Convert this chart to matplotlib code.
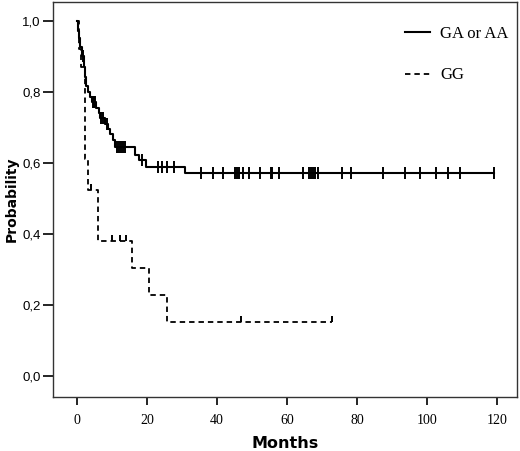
import numpy as np
import matplotlib
matplotlib.use("Agg")
import matplotlib.pyplot as plt
from matplotlib.markers import TICKUP

# ---- data ----
ga_times = [0, 0.3, 0.6, 1.0, 1.5, 2.0, 2.3, 2.6, 3.2, 3.8, 4.3, 5.6, 6.2, 6.6,
            8.0, 9.0, 9.5, 10.4, 11.0, 16.7, 17.6, 19.8, 31.0]
ga_surv = [1.0, 0.97, 0.95, 0.925, 0.90, 0.87, 0.84, 0.815, 0.80, 0.785, 0.77,
           0.755, 0.74, 0.726, 0.71, 0.695, 0.68, 0.665, 0.645, 0.623, 0.608,
           0.589, 0.572]
ga_censor = [1.8, 4.6, 5.0, 5.3, 7.0, 7.5, 8.5, 11.5, 12.0, 12.6, 13.2, 13.8,
             18.6, 23.1, 24.3, 25.8, 27.7, 35.3, 38.9, 41.6, 45.2, 45.7, 46.2,
             47.5, 49.2, 52.4, 55.3, 55.7, 57.6, 64.6, 66.2, 66.8, 67.3, 67.9,
             68.7, 75.8, 78.2, 87.5, 93.6, 97.9, 102.4, 105.9, 109.4, 119.0]
ga_end = 119.0

gg_times = [0, 0.6, 1.2, 2.2, 3.2, 6.0, 15.7, 20.7, 25.8]
gg_surv = [1.0, 0.92, 0.87, 0.61, 0.524, 0.38, 0.304, 0.228, 0.152]
gg_censor = [3.9, 10.0, 12.3, 14.0, 46.8, 72.7]
gg_end = 72.7

x_ticks = [0, 20, 40, 60, 80, 100, 120]
y_ticks = [0.0, 0.2, 0.4, 0.6, 0.8, 1.0]
y_tick_labels = ["0,0", "0,2", "0,4", "0,6", "0,8", "1,0"]
series_labels = ["GA or AA", "GG"]


def step_xy(times, surv, end):
    return list(times) + [end], list(surv) + [surv[-1]]


def surv_at(times, surv, t):
    i = np.searchsorted(times, t, side="right") - 1
    return np.asarray(surv)[i]


fig = plt.figure(figsize=(5.2, 4.51), dpi=100)
ax = fig.add_axes([0.102, 0.120, 0.892, 0.876])

serif = "Liberation Serif"
sans = "Liberation Sans"
bold_sans = "DejaVu Sans"

# GA or AA
x, y = step_xy(ga_times, ga_surv, ga_end)
l1, = ax.step(x, y, where="post", color="black", lw=1.5)
ax.plot(ga_censor, surv_at(ga_times, ga_surv, ga_censor), ls="none",
        marker="|", ms=8, mew=1.4, color="black")

# GG
x, y = step_xy(gg_times, gg_surv, gg_end)
l2, = ax.step(x, y, where="post", color="black", lw=1.3, ls=(0, (3, 2.2)))
ax.plot(gg_censor, surv_at(gg_times, gg_surv, gg_censor), ls="none",
        marker=TICKUP, ms=4, mew=1.4, color="black")

ax.set_xlim(-6.8, 125.6)
ax.set_ylim(-0.059, 1.053)
ax.set_xticks(x_ticks)
ax.set_xticklabels([str(v) for v in x_ticks], fontfamily=serif, fontsize=10)
ax.set_yticks(y_ticks)
ax.set_yticklabels(y_tick_labels, fontfamily=sans, fontsize=9.5)
ax.tick_params(axis="x", direction="out", length=6, width=1.2, pad=6,
               colors="black")
ax.tick_params(axis="y", direction="out", length=7, width=1.2, pad=2,
               colors="black")
for s in ax.spines.values():
    s.set_linewidth(1.0)
    s.set_color("#333333")

ax.set_xlabel("Months", fontfamily=bold_sans, fontweight="bold", fontsize=11.5)
ax.xaxis.set_label_coords(0.5, -0.098)
ax.set_ylabel("Probability", fontfamily=bold_sans, fontweight="bold",
              fontsize=10)
ax.yaxis.set_label_coords(-0.075, 0.5)

leg = ax.legend([l1, l2], series_labels, loc="upper left", frameon=False,
                prop={"family": serif, "size": 12}, handlelength=1.5,
                handletextpad=0.6, labelspacing=1.55, borderpad=0,
                borderaxespad=0, bbox_to_anchor=(0.759, 0.94))

fig.savefig("out.png", dpi=100)
